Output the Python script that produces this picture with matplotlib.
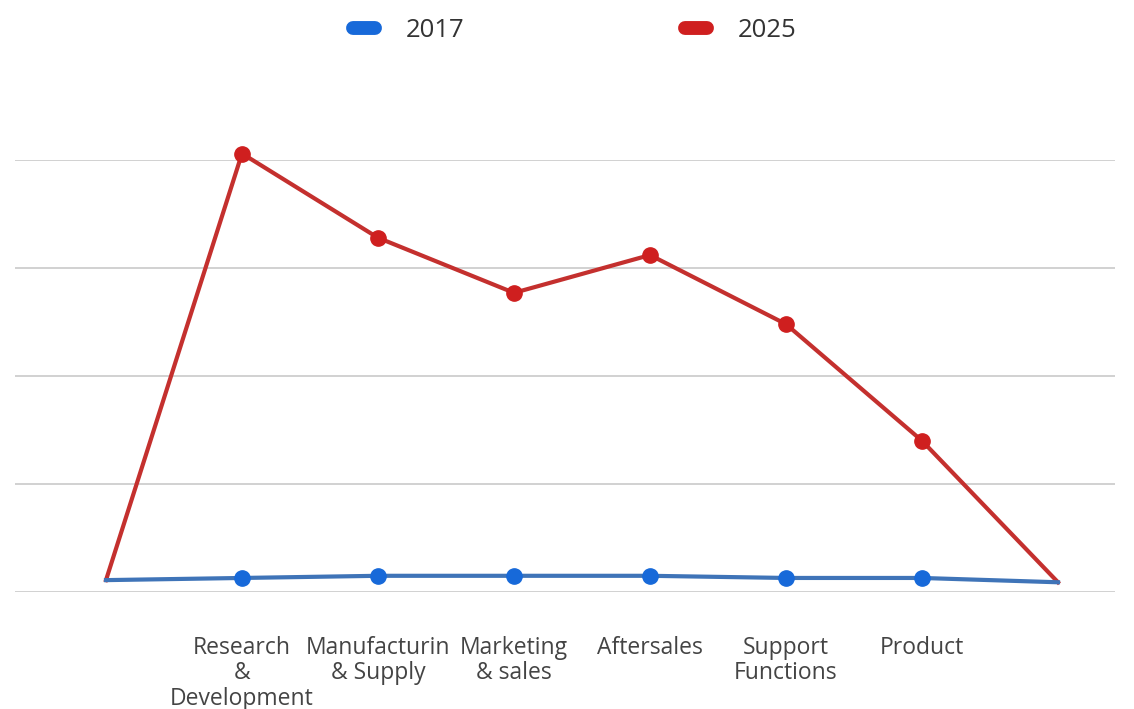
import matplotlib
matplotlib.use('Agg')
import matplotlib.pyplot as plt
from matplotlib.lines import Line2D

plt.rcParams['font.family'] = ['Open Sans', 'DejaVu Sans']

# index 0 and 7 are unlabeled end points
categories = ['', 'Research\n&\nDevelopment', 'Manufacturin\n& Supply', 'Marketing\n& sales',
              'Aftersales', 'Support\nFunctions', 'Product', '']
values_2017 = [0.11, 0.13, 0.15, 0.15, 0.15, 0.13, 0.13, 0.09]
values_2025 = [0.11, 4.06, 3.28, 2.77, 3.12, 2.48, 1.40, 0.09]

red_line = '#c4302e'
red_dot = '#cf1f1f'
blue_line = '#3f74b8'
blue_dot = '#1769d9'

fig = plt.figure(figsize=(11.34, 7.09), dpi=100)
ax = fig.add_axes([15 / 1134, 117 / 709, 1100 / 1134, 432 / 709])

x = list(range(len(categories)))

ax.plot(x, values_2025, color=red_line, lw=3, zorder=3, clip_on=False)
ax.plot(x[1:-1], values_2025[1:-1], 'o', color=red_dot, ms=11, zorder=4, clip_on=False)
ax.plot(x, values_2017, color=blue_line, lw=3, zorder=5, clip_on=False)
ax.plot(x[1:-1], values_2017[1:-1], 'o', color=blue_dot, ms=11, zorder=6, clip_on=False)

ax.set_xlim(-0.669, 7.419)
ax.set_ylim(0, 4)
ax.set_yticks([0, 1, 2, 3, 4])
ax.yaxis.grid(True, color='#cacaca', lw=1.2)
ax.set_axisbelow(True)
ax.tick_params(left=False, bottom=False, labelleft=False)
for s in ax.spines.values():
    s.set_visible(False)

ax.set_xticks(x)
ax.set_xticklabels(categories, fontsize=16.5, color='#444444', linespacing=1.08)
ax.tick_params(axis='x', pad=28)

handles = [
    Line2D([0], [0], color=blue_dot, lw=10, solid_capstyle='round'),
    Line2D([0], [0], color=red_dot, lw=10, solid_capstyle='round'),
]
fig.legend(handles, ['2017', '2025'], loc='center', bbox_to_anchor=(0.507, 0.957),
           ncol=2, frameon=False, fontsize=18.5, handlelength=0.85,
           columnspacing=8.6, handletextpad=1.2, labelcolor='#333333')

fig.savefig('out.png', dpi=100)
